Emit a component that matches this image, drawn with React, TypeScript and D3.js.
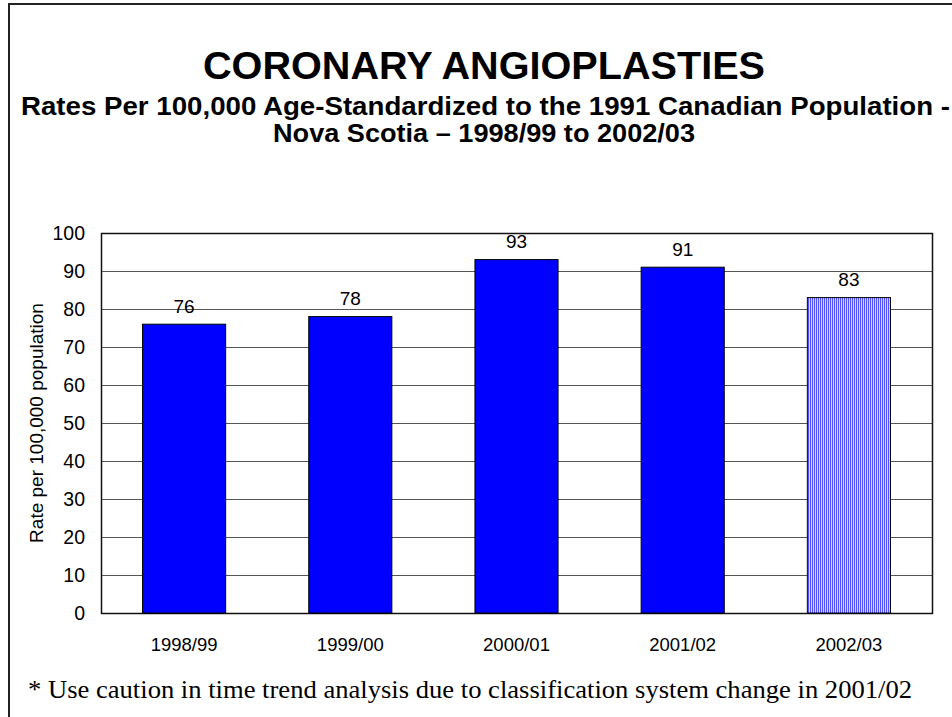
import React from "react";
import * as d3 from "d3";

const categories = ["1998/99", "1999/00", "2000/01", "2001/02", "2002/03"];
const values = [76, 78, 93, 91, 83];
const striped = [false, false, false, false, true];
const yTicks = [0, 10, 20, 30, 40, 50, 60, 70, 80, 90, 100];

const titleText = "CORONARY ANGIOPLASTIES";
const subtitle1 = "Rates Per 100,000 Age-Standardized to the 1991 Canadian Population -";
const subtitle2 = "Nova Scotia – 1998/99 to 2002/03";
const yLabel = "Rate per 100,000 population";
const footnote = "* Use caution in time trend analysis due to classification system change in 2001/02";

export default function App() {
  const W = 952, H = 717;
  const left = 101, right = 932, top = 233, bottom = 613;
  const x = d3.scaleBand<string>().domain(categories).range([left, right]).paddingInner(0.5).paddingOuter(0.25);
  const y = d3.scaleLinear().domain([0, 100]).range([bottom, top]);
  const font = "Arial, 'Liberation Sans', sans-serif";

  return (
    <svg width={W} height={H} style={{ position: "absolute", left: 0, top: 0, background: "#fff" }}>
      <defs>
        <pattern id="stripes" patternUnits="userSpaceOnUse" width={2} height={4}>
          <rect x={0} y={0} width={2} height={4} fill="#d8d8ff" />
          <rect x={0} y={0} width={1} height={4} fill="#5050ff" />
        </pattern>
      </defs>
      <rect x={0} y={0} width={W} height={H} fill="#fff" />
      <rect x={9} y={4} width={W + 20} height={H + 20} fill="none" stroke="#222" strokeWidth={2} />

      <text x={203} y={79} fontFamily={font} fontWeight="bold" fontSize={39.5} textLength={562} lengthAdjust="spacingAndGlyphs">{titleText}</text>
      <text x={21} y={115} fontFamily={font} fontWeight="bold" fontSize={26} textLength={929} lengthAdjust="spacingAndGlyphs">{subtitle1}</text>
      <text x={273} y={142} fontFamily={font} fontWeight="bold" fontSize={26} textLength={422} lengthAdjust="spacingAndGlyphs">{subtitle2}</text>

      {yTicks.map((t) => (
        <g key={t}>
          <line x1={left} x2={right} y1={Math.round(y(t)) + 0.5} y2={Math.round(y(t)) + 0.5} stroke={t === 0 ? "#222" : "#555"} strokeWidth={1} />
          <text x={85} y={y(t) + 7} textAnchor="end" fontFamily={font} fontSize={19.5}>{t}</text>
        </g>
      ))}
      <rect x={left + 0.5} y={top + 0.5} width={right - left} height={bottom - top} fill="none" stroke="#111" strokeWidth={1.5} />

      {categories.map((c, i) => (
        <g key={c}>
          <rect x={x(c)!} y={y(values[i])} width={x.bandwidth()} height={bottom - y(values[i])}
            fill={striped[i] ? "url(#stripes)" : "#0000ff"} stroke="#000" strokeWidth={1} />
          <text x={x(c)! + x.bandwidth() / 2} y={y(values[i]) - 11.5} textAnchor="middle" fontFamily={font} fontSize={19}>{values[i]}</text>
          <text x={x(c)! + x.bandwidth() / 2} y={651} textAnchor="middle" fontFamily={font} fontSize={18.5}>{c}</text>
        </g>
      ))}

      <text transform={`translate(43, ${(top + bottom) / 2}) rotate(-90)`} textAnchor="middle" fontFamily={font} fontSize={19}>{yLabel}</text>

      <text x={28} y={698} fontFamily="'Times New Roman', 'Liberation Serif', serif" fontSize={26} textLength={884} lengthAdjust="spacingAndGlyphs">{footnote}</text>
    </svg>
  );
}
